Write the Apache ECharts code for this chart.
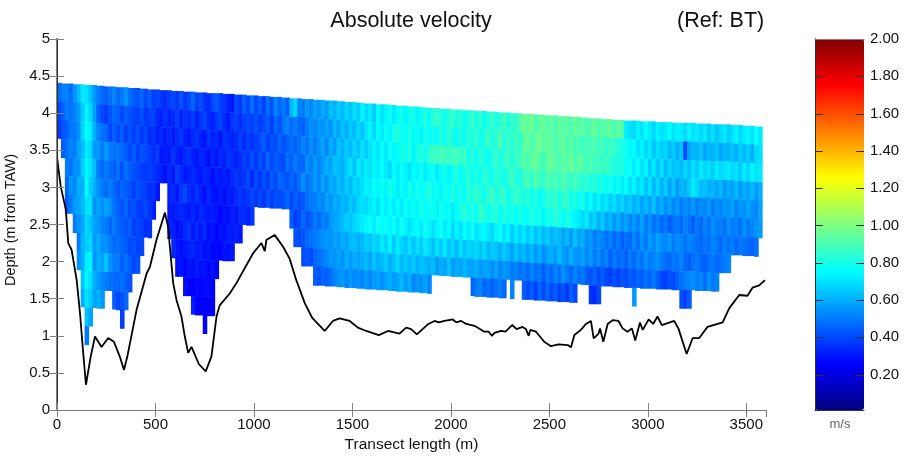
<!DOCTYPE html>
<html>
<head>
<meta charset="utf-8">
<style>
  html, body { margin: 0; padding: 0; background: #fff; }
  #chart { width: 904px; height: 456px; }
</style>
<script src="https://cdn.jsdelivr.net/npm/echarts@6/dist/echarts.min.js"></script>
</head>
<body>
<div id="chart"></div>
<script>
// width of one velocity column along the transect (m) and height of one bin (m)
const columnStep = 20;
const binHeight = 0.25;

const colorbarTicks = [0.2, 0.4, 0.6, 0.8, 1.0, 1.2, 1.4, 1.6, 1.8, 2.0];
const jetColors = ['#00007f', '#0000ff', '#007fff', '#00ffff', '#7fff7f', '#ffff00', '#ff7f00', '#ff0000', '#7f0000'];

// water surface (m from TAW), one value per column
const surface = [
  4.41,4.40,4.40,4.40,4.39,4.39,4.39,4.38,4.38,4.38,
  4.37,4.37,4.36,4.36,4.36,4.35,4.35,4.35,4.34,4.34,
  4.34,4.33,4.33,4.32,4.32,4.32,4.31,4.31,4.31,4.30,
  4.30,4.30,4.29,4.29,4.29,4.28,4.28,4.28,4.27,4.27,
  4.27,4.27,4.26,4.26,4.26,4.25,4.25,4.25,4.24,4.24,
  4.24,4.23,4.23,4.23,4.22,4.22,4.22,4.21,4.21,4.20,
  4.20,4.20,4.19,4.19,4.19,4.18,4.18,4.18,4.17,4.17,
  4.17,4.16,4.16,4.15,4.15,4.15,4.14,4.14,4.13,4.13,
  4.13,4.12,4.12,4.12,4.11,4.11,4.10,4.10,4.10,4.09,
  4.09,4.09,4.08,4.08,4.07,4.07,4.07,4.06,4.06,4.06,
  4.05,4.05,4.05,4.04,4.04,4.04,4.03,4.03,4.03,4.02,
  4.02,4.02,4.01,4.01,4.01,4.00,4.00,4.00,3.99,3.99,
  3.99,3.98,3.98,3.98,3.97,3.97,3.97,3.96,3.96,3.96,
  3.95,3.95,3.95,3.94,3.94,3.93,3.93,3.93,3.92,3.92,
  3.92,3.91,3.91,3.91,3.90,3.90,3.90,3.90,3.89,3.89,
  3.89,3.89,3.88,3.88,3.88,3.88,3.87,3.87,3.87,3.87,
  3.87,3.87,3.86,3.86,3.86,3.86,3.85,3.85,3.85,3.85,
  3.85,3.84,3.84,3.84,3.83,3.83,3.83,3.82,3.82,3.82
];

// absolute velocity (m/s), one list per column, top bin first
const velocity = [
  [.47,.40,.36],
  [.50,.44,.42,.44],
  [.52,.50,.44,.48,.50,.46,.44],
  [.46,.48,.50,.52,.48,.55,.50],
  [.55,.52,.50,.50,.54,.52,.56,.50],
  [.62,.56,.54,.58,.55,.60,.58,.55,.50,.54],
  [.72,.66,.68,.62,.66,.60,.62,.58,.62,.60,.64,.60],
  [.70,.74,.76,.72,.74,.76,.70,.68,.66,.72,.74,.70,.64,.50],
  [.64,.68,.72,.68,.70,.66,.70,.64,.68,.74,.70,.66,.58],
  [.56,.58,.60,.56,.62,.60,.54,.58,.56,.54,.60,.58],
  [.50,.44,.52,.56,.50,.54,.58,.56,.60,.60,.56,.60],
  [.46,.40,.48,.50,.46,.50,.54,.52,.54,.58,.52,.56],
  [.44,.36,.46,.56,.50,.46,.58,.50,.54,.64,.50],
  [.48,.42,.40,.50,.46,.50,.54,.46,.50,.54,.48],
  [.52,.46,.44,.48,.44,.46,.48,.50,.46,.50,.46,.44],
  [.46,.44,.40,.50,.48,.42,.44,.46,.48,.50,.46,.40],
  [.50,.40,.44,.46,.42,.46,.42,.44,.46,.44,.48,.42,.38],
  [.54,.44,.38,.44,.48,.44,.46,.42,.44,.48,.44,.46],
  [.48,.42,.42,.40,.44,.42,.40,.44,.40,.44,.42],
  [.44,.40,.38,.44,.42,.38,.42,.38,.42,.40],
  [.42,.38,.42,.38,.40,.42,.38,.40,.38,.42],
  [.46,.42,.36,.42,.38,.40,.36,.38,.40],
  [.40,.36,.40,.40,.36,.38,.40,.34],
  [.44,.38,.34,.38,.38,.34,.36,.36],
  [.38,.40,.36,.34,.36,.36,.32],
  [.40,.34,.32,.38,.34,.30],
  [.36,.32,.34,.30,.32],
  [.34,.36,.30,.32,.28],
  [.38,.32,.34,.30,.34,.32,.30,.32],
  [.40,.34,.30,.36,.30,.34,.30,.32,.34],
  [.36,.38,.34,.32,.38,.30,.32,.28,.30,.28],
  [.42,.32,.36,.30,.34,.36,.34,.30,.28,.30],
  [.36,.36,.32,.34,.30,.40,.32,.34,.30,.26,.28],
  [.40,.34,.30,.36,.32,.34,.30,.36,.32,.30,.26],
  [.46,.38,.34,.32,.34,.32,.34,.30,.34,.28,.26,.32],
  [.38,.32,.36,.30,.32,.36,.30,.34,.30,.32,.28,.26],
  [.42,.36,.32,.34,.30,.32,.34,.30,.32,.28,.26,.24],
  [.36,.40,.30,.32,.34,.28,.32,.34,.28,.30,.28,.26,.26],
  [.34,.34,.36,.28,.32,.34,.30,.28,.30,.26,.28,.24],
  [.40,.32,.32,.34,.28,.30,.32,.30,.26,.30,.26,.24],
  [.44,.36,.34,.30,.32,.28,.30,.26,.28,.26],
  [.38,.40,.30,.34,.30,.32,.26,.30,.26],
  [.36,.34,.36,.32,.32,.28,.30,.28,.30],
  [.32,.30,.34,.36,.30,.32,.28,.32,.28],
  [.30,.36,.32,.34,.34,.30,.32,.30,.30],
  [.40,.38,.34,.32,.36,.34,.30,.32],
  [.36,.34,.38,.34,.34,.36,.34,.30],
  [.44,.38,.34,.38,.36,.34,.34],
  [.40,.40,.38,.36,.40,.36,.32],
  [.48,.38,.36,.42,.34,.40,.36],
  [.40,.42,.38,.36,.40,.36],
  [.44,.38,.40,.42,.36,.40],
  [.38,.40,.44,.38,.42,.36],
  [.48,.44,.38,.46,.38,.42],
  [.42,.38,.42,.40,.44,.38],
  [.52,.46,.40,.44,.40,.42],
  [.46,.42,.46,.42,.46,.40],
  [.50,.48,.42,.40,.44,.42],
  [.44,.52,.44,.48,.42,.46],
  [.62,.46,.48,.44,.46,.40,.44],
  [.68,.50,.44,.50,.42,.44,.38,.42],
  [.52,.46,.48,.46,.48,.42,.40,.40],
  [.50,.44,.52,.46,.54,.42,.46,.42,.40],
  [.56,.50,.48,.54,.48,.48,.42,.46,.42],
  [.52,.54,.54,.50,.52,.50,.44,.48,.40],
  [.58,.52,.50,.56,.56,.50,.50,.50,.46,.44],
  [.54,.56,.54,.52,.52,.54,.46,.52,.48,.42],
  [.60,.54,.58,.56,.58,.52,.52,.54,.50,.46],
  [.56,.58,.52,.60,.54,.58,.50,.56,.52,.44],
  [.64,.54,.60,.58,.60,.54,.56,.54,.56,.48],
  [.60,.62,.56,.64,.58,.60,.58,.58,.54,.52],
  [.66,.58,.64,.62,.64,.58,.60,.56,.58,.54],
  [.62,.64,.60,.60,.60,.62,.62,.60,.54,.56],
  [.68,.60,.66,.66,.66,.60,.66,.58,.60,.52],
  [.64,.66,.62,.70,.62,.66,.64,.62,.56,.56],
  [.70,.62,.68,.64,.68,.62,.68,.64,.60,.52],
  [.66,.68,.64,.72,.66,.68,.70,.60,.58,.54],
  [.74,.64,.70,.68,.70,.70,.72,.62,.60,.52],
  [.68,.70,.66,.72,.74,.68,.74,.66,.62,.56],
  [.72,.74,.70,.70,.72,.72,.76,.64,.58,.52],
  [.66,.68,.74,.74,.76,.74,.72,.68,.64,.56],
  [.76,.76,.70,.72,.74,.70,.78,.66,.60,.58],
  [.70,.72,.76,.76,.78,.76,.76,.72,.62,.54],
  [.74,.78,.72,.72,.74,.72,.78,.68,.66,.58],
  [.78,.74,.78,.68,.80,.76,.74,.74,.60,.60],
  [.72,.80,.74,.76,.76,.72,.78,.66,.64,.56],
  [.76,.82,.76,.72,.72,.76,.72,.72,.68,.58],
  [.80,.78,.80,.78,.78,.72,.78,.68,.62,.62],
  [.74,.76,.78,.74,.74,.78,.74,.64,.66,.56],
  [.78,.82,.82,.70,.80,.74,.70,.70,.62,.60],
  [.80,.76,.74,.76,.74,.78,.74,.64,.66,.52],
  [.74,.78,.80,.74,.80,.74,.76,.70,.60,.56],
  [.78,.74,.82,.78,.76,.80,.72,.66,.64,.54],
  [.82,.80,.78,.72,.78,.76,.78,.72,.62,.58],
  [.76,.76,.84,.76,.82,.78,.74,.68,.60,.52],
  [.84,.80,.88,.78,.76,.78,.70,.64,.62],
  [.86,.76,.86,.72,.78,.74,.74,.70,.56],
  [.82,.82,.90,.76,.74,.80,.78,.66,.60],
  [.78,.78,.88,.80,.80,.76,.72,.72,.58],
  [.84,.84,.86,.74,.76,.78,.76,.64,.64],
  [.86,.80,.88,.78,.82,.72,.68,.68,.56],
  [.80,.76,.90,.82,.78,.76,.74,.62,.60],
  [.84,.82,.84,.76,.80,.80,.70,.70,.58],
  [.78,.78,.88,.80,.76,.84,.76,.64,.62],
  [.82,.84,.80,.84,.84,.78,.72,.68,.58],
  [.86,.80,.82,.78,.80,.82,.78,.66,.58,.46],
  [.80,.86,.78,.82,.86,.76,.70,.68,.60,.50],
  [.84,.78,.84,.76,.82,.88,.74,.64,.56,.52],
  [.78,.82,.80,.86,.78,.82,.76,.68,.58,.46],
  [.82,.88,.76,.80,.84,.78,.72,.62,.58,.48],
  [.86,.80,.82,.78,.88,.80,.68,.66,.54,.44],
  [.80,.84,.86,.84,.80,.84,.74,.64,.58,.48],
  [.84,.90,.80,.82,.84,.76,.78,.60,.52,.50],
  [.88,.82,.84,.78,.86,.82,.70,.66,.56,.46],
  [.82,.86,.88,.84,.78,.78,.74,.62,.54],
  [.86,.84,.82,.88,.82,.80,.66,.58,.50,.52],
  [.84,.88,.86,.82,.86,.76,.72,.64,.52],
  [.92,.84,.88,.80,.84,.80,.68,.60,.48],
  [.96,.92,.92,.86,.80,.78,.72,.62,.50,.44],
  [.94,.96,.90,.90,.84,.76,.66,.58,.46,.40],
  [.98,.90,.94,.84,.78,.82,.70,.62,.52,.44],
  [.90,.94,.96,.92,.82,.78,.64,.56,.48,.38],
  [.94,.98,.92,.88,.76,.80,.68,.60,.50,.46],
  [.96,.92,.88,.84,.80,.74,.62,.54,.44,.40],
  [.92,.96,.94,.92,.84,.80,.66,.58,.50,.46],
  [.94,.94,.96,.88,.82,.78,.60,.60,.46,.40],
  [.90,.90,.92,.90,.86,.84,.64,.56,.52,.44],
  [.96,.92,.90,.86,.80,.80,.62,.62,.48,.38],
  [.92,.96,.94,.92,.84,.76,.58,.58,.54,.42],
  [.94,.90,.92,.88,.86,.82,.62,.54,.50,.36],
  [.90,.94,.96,.84,.78,.78,.56,.60,.46,.44],
  [.96,.88,.90,.90,.82,.74,.64,.56,.52,.40],
  [.92,.92,.94,.86,.76,.72,.58,.54,.48],
  [.94,.86,.92,.82,.80,.68,.60,.58,.50],
  [.90,.90,.88,.86,.72,.72,.54,.52,.44],
  [.92,.88,.92,.80,.76,.64,.56,.56,.42,.36],
  [.96,.92,.86,.84,.70,.68,.50,.50,.46,.34],
  [.90,.86,.90,.78,.74,.60,.54,.54,.40,.40],
  [.94,.90,.84,.82,.68,.66,.52,.48,.44],
  [.92,.84,.88,.76,.72,.58,.48,.52,.40],
  [.96,.88,.84,.80,.66,.62,.52,.44,.38],
  [.90,.86,.82,.74,.70,.56,.46,.50,.42],
  [.94,.82,.80,.78,.64,.60,.50,.46,.38],
  [.92,.80,.82,.72,.68,.54,.44,.48,.42],
  [.72,.78,.76,.76,.62,.58,.48,.44,.40],
  [.70,.74,.78,.70,.66,.52,.46,.50,.44],
  [.68,.76,.72,.74,.60,.56,.52,.46,.42,.56],
  [.74,.70,.76,.68,.64,.52,.48,.52,.46],
  [.70,.74,.70,.72,.58,.58,.54,.48,.44],
  [.76,.68,.74,.64,.62,.50,.50,.54,.48],
  [.72,.72,.66,.70,.58,.54,.56,.50,.46],
  [.68,.64,.72,.62,.64,.48,.52,.52,.50],
  [.74,.70,.64,.68,.56,.52,.58,.54,.44],
  [.70,.66,.70,.60,.60,.46,.54,.50,.40],
  [.72,.68,.62,.66,.54,.50,.52,.48,.38],
  [.76,.62,.68,.58,.58,.44,.56,.46,.42],
  [.70,.66,.64,.64,.52,.48,.50,.50,.40],
  [.74,.60,.66,.56,.56,.50,.54,.48,.44],
  [.72,.64,.62,.62,.50,.46,.52,.52,.48,.42],
  [.68,.40,.68,.60,.54,.52,.48,.46,.50,.38],
  [.74,.58,.64,.66,.52,.48,.52,.44,.52,.44],
  [.70,.62,.70,.72,.56,.44,.50,.48,.54],
  [.72,.60,.66,.68,.50,.50,.48,.50,.50],
  [.68,.64,.72,.62,.54,.46,.46,.46,.52],
  [.72,.58,.68,.64,.52,.52,.50,.44,.48],
  [.66,.62,.70,.60,.56,.48,.48,.48,.54],
  [.70,.60,.66,.62,.50,.54,.52,.50,.50],
  [.64,.64,.72,.58,.54,.50,.50,.46,.52],
  [.68,.58,.68,.62,.52,.52,.46,.48],
  [.72,.62,.70,.56,.56,.48,.52,.50],
  [.66,.60,.72,.60,.54,.54,.48,.52],
  [.70,.64,.68,.58,.58,.50,.50],
  [.74,.60,.70,.62,.52,.52,.46],
  [.68,.66,.66,.56,.56,.48,.50],
  [.72,.62,.72,.60,.54,.54,.48],
  [.74,.66,.68,.58,.58,.50,.46],
  [.70,.60,.74,.62,.54,.52,.44],
  [.76,.68,.70,.56,.52,.54,.48],
  [.72,.70,.72,.60,.58,.56]
];

// river bed
const bedDistance = [
  0,19,45,57,74,100,117,133,147,171,193,226,260,289,319,340,357,404,455,472,505,548,564,590,607,632,649,666,683,
  720,755,784,810,826,877,911,995,1038,1055,1063,1105,1148,1181,1215,1258,1296,1359,1401,1435,1486,1528,1570,1634,
  1680,1739,1773,1798,1827,1883,1917,1939,1967,2010,2027,2052,2078,2120,2170,2192,2208,2221,2255,2277,2311,2334,2364,
  2381,2395,2403,2432,2474,2508,2547,2593,2610,2627,2660,2686,2711,2725,2750,2757,2774,2796,2821,2851,2872,2897,2919,
  2936,2945,2960,2974,3004,3027,3049,3071,3134,3155,3197,3228,3261,3303,3380,3413,3464,3506,3532,3565,3595
];
const bedDepth = [
  3.41,3.01,2.70,2.25,2.16,1.75,1.30,.77,.34,.72,.99,.85,.97,.92,.72,.54,.72,1.35,1.84,1.93,2.29,2.66,2.47,1.71,1.48,1.26,.99,.77,.85,
  .62,.52,.72,1.26,1.41,1.57,1.71,2.11,2.25,2.14,2.29,2.36,2.20,2.04,1.75,1.44,1.24,1.065,1.20,1.235,1.20,1.11,1.065,1.01,
  1.065,1.03,1.11,1.09,1.02,1.155,1.20,1.18,1.20,1.22,1.18,1.20,1.16,1.135,1.055,1.055,1.00,1.04,1.065,1.055,1.145,1.09,1.12,
  1.09,1.00,1.08,1.055,.92,.86,.885,.875,.845,1.01,1.08,1.16,1.20,.965,1.03,1.10,.92,1.16,1.21,1.20,1.10,1.055,1.10,
  .935,.93,1.18,1.08,1.22,1.16,1.26,1.145,1.20,1.10,.755,.97,.97,1.12,1.18,1.37,1.55,1.54,1.65,1.68,1.75
];

const cells = [];
velocity.forEach((bins, col) => {
  bins.forEach((v, bin) => {
    cells.push([
      col * columnStep,
      (col + 1) * columnStep,
      surface[col] - bin * binHeight,
      surface[col] - (bin + 1) * binHeight,
      v
    ]);
  });
});

const bedLine = bedDistance.map((d, i) => [d, bedDepth[i]]);

function renderCell(params, api) {
  const a = api.coord([api.value(0), api.value(2)]);
  const b = api.coord([api.value(1), api.value(3)]);
  return {
    type: 'rect',
    shape: { x: a[0], y: a[1], width: b[0] - a[0] + 0.6, height: b[1] - a[1] + 0.4 },
    style: { fill: api.visual('color') }
  };
}

// colorbar tick marks, they have to sit on top of the bar on both sides
function renderBarTick(params, api) {
  const v = api.value(0);
  const style = { stroke: '#333', lineWidth: 1 };
  const line = (x0, x1) => {
    const p = api.coord([x0, v]);
    const q = api.coord([x1, v]);
    return { type: 'line', shape: { x1: p[0], y1: Math.round(p[1]) + 0.5, x2: q[0], y2: Math.round(q[1]) + 0.5 }, style };
  };
  return { type: 'group', children: [line(0, 0.16), line(0.84, 1)] };
}

const font = '"Liberation Sans", Arial, sans-serif';
const grey = '#808080';
const dark = '#333333';

const chart = echarts.init(document.getElementById('chart'), null, { renderer: 'canvas' });
chart.setOption({
  animation: false,
  backgroundColor: '#fff',
  textStyle: { fontFamily: font },
  title: [
    { text: 'Absolute velocity', left: 411, top: 10, padding: 0, textAlign: 'center',
      textStyle: { fontFamily: font, fontSize: 21.5, fontWeight: 'normal', color: '#111' } },
    { text: '(Ref: BT)', left: 677, top: 10, padding: 0,
      textStyle: { fontFamily: font, fontSize: 21.5, fontWeight: 'normal', color: '#111' } },
    { text: 'm/s', left: 840, top: 418, padding: 0, textAlign: 'center',
      textStyle: { fontFamily: font, fontSize: 13, fontWeight: 'normal', color: '#666' } }
  ],
  grid: [
    { left: 57, top: 39, width: 709, height: 371, outerBoundsMode: 'none' },
    { left: 815, top: 39, width: 49, height: 371, outerBoundsMode: 'none' }
  ],
  xAxis: [
    {
      type: 'value', gridIndex: 0, min: 0, max: 3600, interval: 500,
      name: 'Transect length (m)', nameLocation: 'middle', nameGap: 27,
      nameTextStyle: { fontFamily: font, fontSize: 15.5, color: '#111' },
      axisLine: { lineStyle: { color: dark, width: 1 } },
      axisTick: { inside: true, length: 7, lineStyle: { color: grey } },
      axisLabel: { color: '#111', fontSize: 15, margin: 7, showMaxLabel: false, formatter: v => String(v) },
      splitLine: { show: false }, z: 5
    },
    {
      type: 'value', gridIndex: 0, position: 'top', min: 0, max: 3600, interval: 500,
      axisLine: { lineStyle: { color: grey, width: 1 } },
      axisTick: { inside: true, length: 7, lineStyle: { color: grey } },
      axisLabel: { show: false }, splitLine: { show: false }, z: 5
    },
    {
      type: 'value', gridIndex: 1, min: 0, max: 1,
      axisLine: { lineStyle: { color: dark } }, axisTick: { show: false },
      axisLabel: { show: false }, splitLine: { show: false }, z: 5
    },
    {
      type: 'value', gridIndex: 1, position: 'top', min: 0, max: 1,
      axisLine: { lineStyle: { color: grey } }, axisTick: { show: false },
      axisLabel: { show: false }, splitLine: { show: false }, z: 5
    }
  ],
  yAxis: [
    {
      type: 'value', gridIndex: 0, min: 0, max: 5, interval: 0.5,
      name: 'Depth (m from TAW)', nameLocation: 'middle', nameGap: 33, nameRotate: 90,
      nameTextStyle: { fontFamily: font, fontSize: 14.5, color: '#111', padding: [0, 0, 0, 9] },
      axisLine: { lineStyle: { color: grey, width: 2 } },
      axisTick: { inside: true, length: 7, lineStyle: { color: grey } },
      axisLabel: { color: '#111', fontSize: 15, margin: 7, formatter: v => String(v) },
      splitLine: { show: false }, z: 5
    },
    {
      type: 'value', gridIndex: 0, position: 'right', min: 0, max: 5, interval: 0.5,
      axisLine: { lineStyle: { color: dark, width: 1 } },
      axisTick: { inside: true, length: 7, lineStyle: { color: grey } },
      axisLabel: { show: false }, splitLine: { show: false }, z: 5
    },
    {
      type: 'value', gridIndex: 1, min: 0.01, max: 2,
      axisLine: { lineStyle: { color: dark } }, axisTick: { show: false },
      axisLabel: { show: false }, splitLine: { show: false }, z: 5
    },
    {
      type: 'value', gridIndex: 1, position: 'right', min: 0.01, max: 2,
      axisLine: { lineStyle: { color: dark } }, axisTick: { show: false },
      axisLabel: { color: '#111', fontSize: 15, margin: 6, customValues: colorbarTicks,
        formatter: v => v.toFixed(2) },
      splitLine: { show: false }, z: 5
    }
  ],
  visualMap: {
    type: 'continuous', min: 0.01, max: 2, seriesIndex: 0, dimension: 4,
    left: 815, top: 39, itemWidth: 49, itemHeight: 371,
    calculable: false, realtime: false, text: null, showLabel: false, padding: 0,
    inRange: { color: jetColors }, z: 1
  },
  series: [
    {
      type: 'custom', xAxisIndex: 0, yAxisIndex: 0, renderItem: renderCell,
      data: cells, encode: { x: [0, 1], y: [2, 3] }, clip: true, z: 2, silent: true
    },
    {
      type: 'line', xAxisIndex: 0, yAxisIndex: 0, data: bedLine,
      showSymbol: false, lineStyle: { color: '#000', width: 1.8 }, z: 3, silent: true
    },
    {
      type: 'custom', xAxisIndex: 2, yAxisIndex: 2, renderItem: renderBarTick,
      data: colorbarTicks.slice(0, -1).map(v => [v]), encode: { y: 0 }, clip: false, z: 6, silent: true
    }
  ]
});
</script>
</body>
</html>
